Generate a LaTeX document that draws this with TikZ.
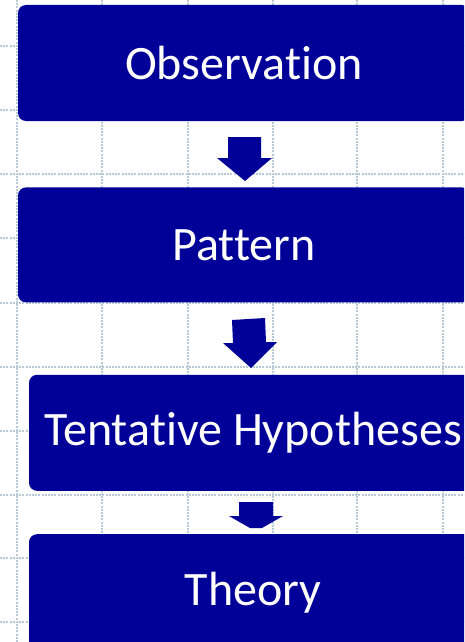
\documentclass[tikz,border=0pt]{standalone}
\usepackage{fontspec}
\setmainfont{Carlito}[Ligatures={NoCommon}]
\usepackage{xcolor}
\usetikzlibrary{positioning}

\definecolor{boxblue}{RGB}{0,0,153}
\definecolor{gridblue}{RGB}{184,202,216}

\tikzset{
  stage/.style={rectangle, rounded corners=8pt, fill=boxblue, text=white,
                inner sep=0pt, minimum width=452pt, minimum height=116pt,
                font=\fontsize{48}{56}\selectfont},
  gridline/.style={draw=gridblue, line width=1.1pt, dash pattern=on 2pt off 1.2pt},
  blockarrow/.style={fill=boxblue}
}

\begin{document}
\begin{tikzpicture}[x=1pt, y=-1pt]
  \useasboundingbox (0,0) rectangle (464,642);
  \clip (0,0) rectangle (464,642);

  % guides
  \foreach \gx in {17,102,188,273,357,443}
    \draw[gridline] (\gx,0) -- (\gx,642);
  \foreach \gy in {46,110,174,238,303,367,431,495,558,622}
    \draw[gridline] (0,\gy) -- (464,\gy);

  \node[stage]                                    (obs) at (244,63) {Observation};
  \node[stage, minimum height=115pt] (pat) [below=66pt of obs]                {Pattern};
  \node[stage, minimum width=448pt]  (hyp) [below=72pt of pat, xshift=9pt]    {Tentative Hypotheses};
  \node[stage, minimum width=448pt]  (thy) [below=43pt of hyp]                {Theory};

  % block arrows
  \fill[blockarrow] (228,137) -- (261,137) -- (261,158) -- (272,158)
                    -- (245,181) -- (217,158) -- (228,158) -- cycle;
  \fill[blockarrow] (232,320) -- (265,318) -- (266,342) -- (277,342)
                    -- (251,368) -- (223,343) -- (233,343) -- cycle;
  \fill[blockarrow] (239,502) -- (273,502) -- (273,516) -- (283,516)
                    -- (262,528) -- (250,528) -- (229,516) -- (239,516) -- cycle;
\end{tikzpicture}
\end{document}
